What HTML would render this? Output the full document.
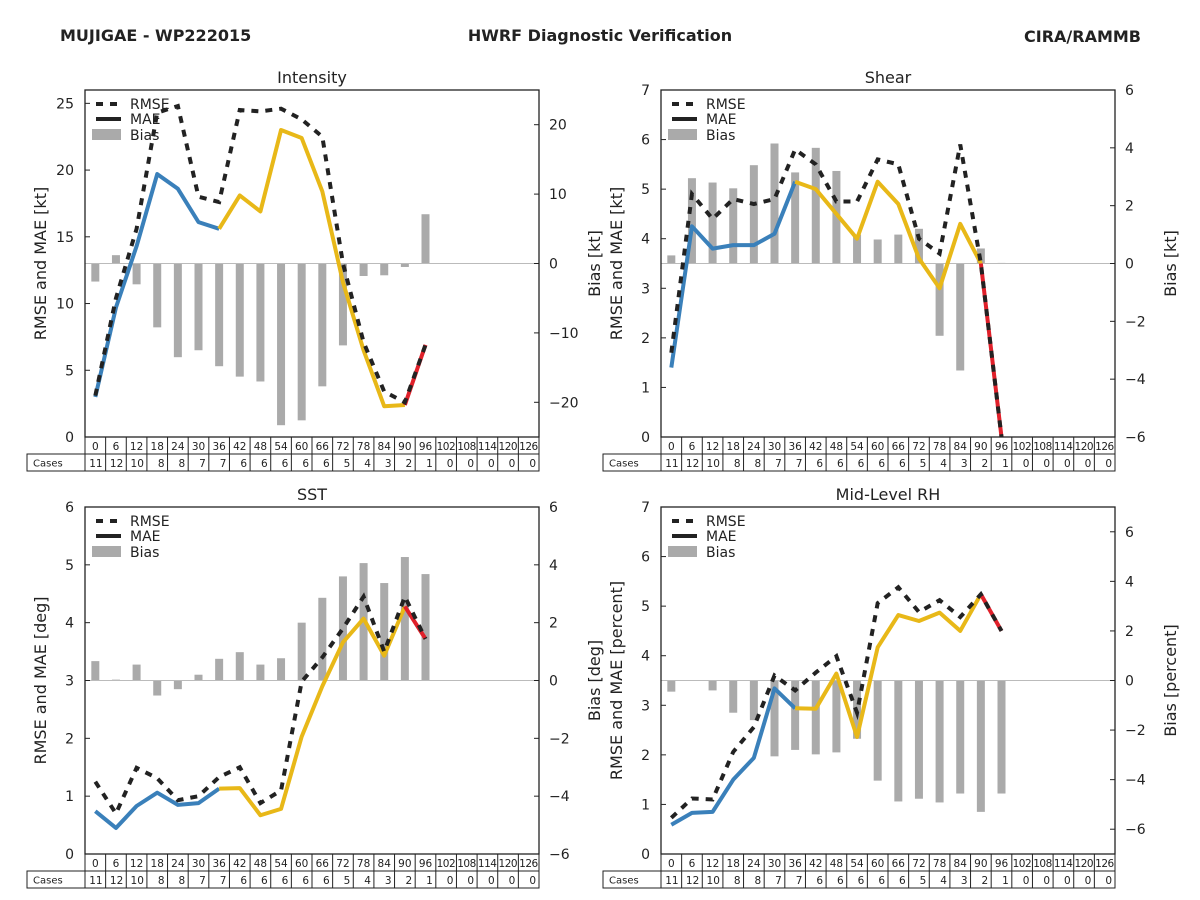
<!DOCTYPE html>
<html><head><meta charset="utf-8">
<style>
body{margin:0;background:#fff;}
svg{display:block;font-family:"DejaVu Sans","Liberation Sans",sans-serif;}
</style></head>
<body>
<svg id="chart" width="1200" height="900" viewBox="0 0 1200 900" xmlns="http://www.w3.org/2000/svg">
<rect width="1200" height="900" fill="#fff"/>
<text x="60" y="41" font-size="16" font-weight="bold" fill="#222">MUJIGAE - WP222015</text>
<text x="600" y="41" font-size="16" font-weight="bold" fill="#222" text-anchor="middle">HWRF Diagnostic Verification</text>
<text x="1141" y="42" font-size="16" font-weight="bold" fill="#222" text-anchor="end">CIRA/RAMMB</text>
</svg>
<script>
const hours = [0,6,12,18,24,30,36,42,48,54,60,66,72,78,84,90,96,102,108,114,120,126];
const cases = [11,12,10,8,8,7,7,6,6,6,6,6,5,4,3,2,1,0,0,0,0,0];
const intRmse = [3.1,10.4,15.6,24.3,24.8,18.0,17.6,24.5,24.4,24.6,23.8,22.5,13.0,7.1,3.4,2.6,6.9];
const intMae  = [3.0,9.7,14.3,19.7,18.6,16.1,15.6,18.1,16.9,23.0,22.4,18.4,11.6,6.5,2.3,2.4,6.9];
const intBias = [-2.6,1.2,-3.0,-9.2,-13.5,-12.5,-14.8,-16.3,-17.0,-23.3,-22.6,-17.7,-11.8,-1.8,-1.7,-0.5,7.1];
const shRmse = [1.7,4.9,4.4,4.8,4.7,4.8,5.8,5.5,4.75,4.75,5.6,5.5,4.0,3.7,5.9,3.5,0];
const shMae  = [1.4,4.25,3.8,3.87,3.87,4.1,5.15,5.0,4.5,4.0,5.15,4.7,3.6,3.0,4.3,3.5,0];
const shBias = [0.28,2.95,2.8,2.6,3.4,4.15,3.15,4.0,3.2,1.0,0.83,1.0,1.2,-2.5,-3.7,0.52,0.02];
const sstRmse = [1.25,0.7,1.49,1.31,0.93,1.0,1.33,1.5,0.88,1.1,2.98,3.4,3.9,4.45,3.5,4.45,3.72];
const sstMae  = [0.74,0.45,0.83,1.06,0.85,0.88,1.13,1.14,0.67,0.78,2.03,2.9,3.66,4.07,3.43,4.28,3.72];
const sstBias = [0.67,0.03,0.55,-0.52,-0.3,0.2,0.75,0.98,0.55,0.77,2.0,2.86,3.6,4.06,3.37,4.27,3.68];
const rhRmse = [0.73,1.12,1.1,2.06,2.56,3.6,3.3,3.66,3.99,2.85,5.06,5.38,4.88,5.12,4.78,5.24,4.5];
const rhMae  = [0.59,0.83,0.85,1.5,1.94,3.34,2.94,2.93,3.64,2.36,4.17,4.82,4.7,4.87,4.5,5.24,4.5];
const rhBias = [-0.45,-0.02,-0.4,-1.3,-1.6,-3.06,-2.8,-2.98,-2.9,-2.35,-4.04,-4.88,-4.77,-4.92,-4.56,-5.3,-4.56];
const intLeftTicks = [0,5,10,15,20,25];
const intRightTicks = [-20,-10,0,10,20];
const shLeftTicks = [0,1,2,3,4,5,6,7];
const shRightTicks = [-6,-4,-2,0,2,4,6];
const sstLeftTicks = [0,1,2,3,4,5,6];
const sstRightTicks = [-6,-4,-2,0,2,4,6];
const rhLeftTicks = [0,1,2,3,4,5,6,7];
const rhRightTicks = [-6,-4,-2,0,2,4,6];

const NS="http://www.w3.org/2000/svg";
const svg=document.getElementById('chart');
function mk(tag,attrs,parent){const e=document.createElementNS(NS,tag);for(const k in attrs)e.setAttribute(k,attrs[k]);(parent||svg).appendChild(e);return e;}

function panel(o){
  const g=mk('g',{});
  
  
  const L=o.x,R=o.x+454,T=o.y,B=o.y+347,W=R-L;
  const cw=W/22;
  const xs=i=>L+(i+0.5)*cw;
  const yl=v=>B-(v-o.lmin)/(o.lmax-o.lmin)*(B-T);
  const yr=v=>B-(v-o.rmin)/(o.rmax-o.rmin)*(B-T);
  o.bias.forEach((v,i)=>{
    const y0=yr(0),y1=yr(v);
    const r=mk('rect',{x:xs(i)-4,y:Math.min(y0,y1),width:8,height:Math.max(Math.abs(y1-y0),0.5),fill:'#aaaaaa'},g);
    
    
  });
  const zl=mk('line',{x1:L,x2:R,y1:yr(0),y2:yr(0),stroke:'#bbbbbb','stroke-width':1},g);
  
  
  const seg=(arr,a,b,color,name)=>{
    let pts=[];for(let i=a;i<=b;i++)pts.push(xs(i)+','+yl(arr[i]));
    const p=mk('polyline',{points:pts.join(' '),fill:'none',stroke:color,'stroke-width':4,'stroke-linejoin':'round'},g);
    
    
  };
  const n=o.mae.length-1;
  seg(o.mae,0,6,'#3a80ba','mae-line-early');
  seg(o.mae,6,n-1,'#e8b818','mae-line-mid');
  seg(o.mae,n-1,n,'#e0202a','mae-line-late');
  let pts=o.rmse.map((v,i)=>xs(i)+','+yl(v));
  const rp=mk('polyline',{points:pts.join(' '),fill:'none',stroke:'#222','stroke-width':4,'stroke-dasharray':'7,7'},g);
  
  
  const fr=mk('rect',{x:L,y:T,width:W,height:B-T,fill:'none',stroke:'#222','stroke-width':1.3},g);
  
  
  o.lt.forEach(v=>{
    mk('line',{x1:L,x2:L+5,y1:yl(v),y2:yl(v),stroke:'#222'},g);
    const t=mk('text',{x:L-11,y:yl(v)+5,'font-size':14,fill:'#222','text-anchor':'end'},g);
    t.textContent=v;
    
    
  });
  o.rt.forEach(v=>{
    mk('line',{x1:R-5,x2:R,y1:yr(v),y2:yr(v),stroke:'#222'},g);
    const t=mk('text',{x:R+10,y:yr(v)+5,'font-size':14,fill:'#222'},g);
    t.textContent=(v<0?'\u2212'+(-v):v);
    
    
  });
  const tt=mk('text',{x:(L+R)/2,y:T-7,'font-size':16,fill:'#222','text-anchor':'middle'},g);
  tt.textContent=o.title;
  
  
  const ly=mk('text',{x:0,y:0,'font-size':16,fill:'#222','text-anchor':'middle',transform:`translate(${L-39},${(T+B)/2}) rotate(-90)`},g);
  ly.textContent=o.ylab;
  
  
  const ry=mk('text',{x:0,y:0,'font-size':16,fill:'#222','text-anchor':'middle',transform:`translate(${R+61},${(T+B)/2}) rotate(-90)`},g);
  ry.textContent=o.rlab;
  
  
  const lg=mk('g',{},g);
  
  
  mk('line',{x1:L+11,x2:L+37,y1:T+14,y2:T+14,stroke:'#222','stroke-width':4,'stroke-dasharray':'7,7'},lg);
  mk('line',{x1:L+11,x2:L+36,y1:T+29,y2:T+29,stroke:'#222','stroke-width':4},lg);
  mk('rect',{x:L+7,y:T+39,width:29,height:11,fill:'#aaaaaa'},lg);
  [['RMSE',T+19],['MAE',T+34],['Bias',T+50]].forEach(([s,y])=>{
    const t=mk('text',{x:L+45,y:y,'font-size':14,fill:'#222'},lg);t.textContent=s;
    
    
  });
  const tb=mk('g',{},g);
  
  
  mk('rect',{x:L,y:B,width:W,height:17,fill:'none',stroke:'#222'},tb);
  mk('rect',{x:L-58,y:B+17,width:W+58,height:17,fill:'none',stroke:'#222'},tb);
  const cl=mk('text',{x:L-52,y:B+29.5,'font-size':10,fill:'#222'},tb);cl.textContent='Cases';
  hours.forEach((h,i)=>{
    mk('line',{x1:L+i*cw,x2:L+i*cw,y1:B,y2:B+34,stroke:'#222'},tb);
    const t=mk('text',{x:xs(i),y:B+13,'font-size':10.5,fill:'#222','text-anchor':'middle','textLength':h>=100?19:null},tb);t.textContent=h;
    if(h<100)t.removeAttribute('textLength');
    
    
    const c=mk('text',{x:L+(i+1)*cw-3,y:B+30,'font-size':10.5,fill:'#222','text-anchor':'end'},tb);c.textContent=cases[i];
    
    
  });
}
panel({name:'intensity',title:'Intensity',x:85,y:90,lmin:0,lmax:26,rmin:-25,rmax:25,rmse:intRmse,mae:intMae,bias:intBias,lt:intLeftTicks,rt:intRightTicks,ylab:'RMSE and MAE [kt]',rlab:'Bias [kt]'});
panel({name:'shear',title:'Shear',x:661,y:90,lmin:0,lmax:7,rmin:-6,rmax:6,rmse:shRmse,mae:shMae,bias:shBias,lt:shLeftTicks,rt:shRightTicks,ylab:'RMSE and MAE [kt]',rlab:'Bias [kt]'});
panel({name:'sst',title:'SST',x:85,y:507,lmin:0,lmax:6,rmin:-6,rmax:6,rmse:sstRmse,mae:sstMae,bias:sstBias,lt:sstLeftTicks,rt:sstRightTicks,ylab:'RMSE and MAE [deg]',rlab:'Bias [deg]'});
panel({name:'rh',title:'Mid-Level RH',x:661,y:507,lmin:0,lmax:7,rmin:-7,rmax:7,rmse:rhRmse,mae:rhMae,bias:rhBias,lt:rhLeftTicks,rt:rhRightTicks,ylab:'RMSE and MAE [percent]',rlab:'Bias [percent]'});
</script>
</body></html>
